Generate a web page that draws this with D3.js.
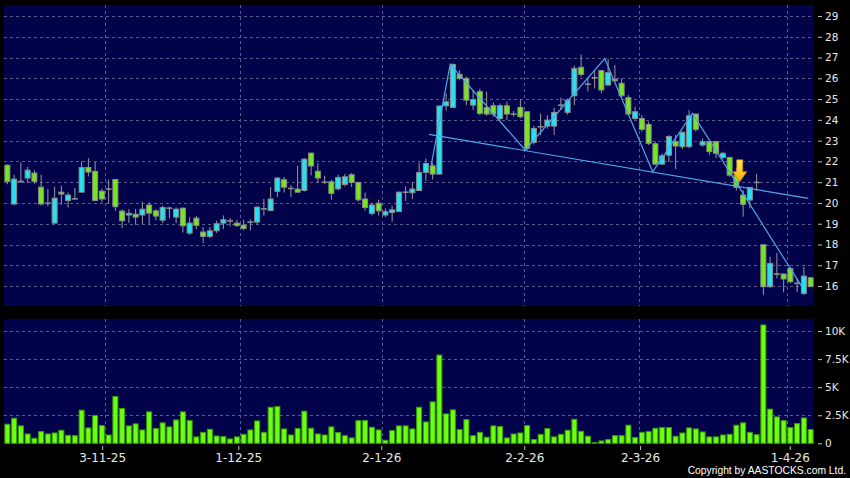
<!DOCTYPE html>
<html><head><meta charset="utf-8">
<script src="https://cdn.jsdelivr.net/npm/d3@7/dist/d3.min.js"></script>
<style>
html,body{margin:0;padding:0;background:#000;}
svg{display:block;}
</style></head>
<body>
<svg id="chart" width="850" height="478"></svg>
<script>
// ---------------- DATA ----------------
const openV  = [21.82,19.95,21.05,21.20,21.44,20.76,20.00,19.03,20.52,20.12,
                20.21,20.52,21.71,21.52,20.57,20.68,21.13,19.61,19.42,19.46,
                19.42,19.90,19.62,19.17,19.76,19.32,19.75,18.55,19.27,18.60,
                18.39,18.66,19.03,19.15,19.03,18.93,19.07,19.08,19.73,19.64,
                20.56,21.12,20.71,20.67,20.60,22.40,21.53,21.01,21.02,20.68,
                20.89,21.36,20.99,20.19,19.50,19.99,19.42,19.54,19.59,20.53,
                20.49,20.60,21.47,21.79,21.39,24.68,24.60,26.19,26.00,24.71,
                25.36,24.59,24.68,24.07,24.68,24.29,24.60,24.39,22.91,23.68,
                23.70,23.70,24.72,24.36,25.16,26.53,25.73,26.04,26.37,25.68,
                25.95,25.76,25.07,24.07,24.07,23.78,22.85,21.87,22.30,22.95,
                22.71,22.71,24.28,22.79,22.95,22.95,22.19,22.19,21.34,20.38,
                20.14,21.00,17.99,15.97,16.59,16.58,16.85,16.14,15.65,16.40];
const highV  = [21.85,21.36,21.95,21.73,21.57,21.36,20.68,20.78,20.83,20.50,
                20.72,22.00,22.16,21.98,20.68,21.12,21.15,19.69,19.70,19.72,
                20.07,20.03,19.70,19.88,19.83,19.78,19.78,19.32,19.38,18.84,
                18.84,19.14,19.40,19.27,19.19,19.19,19.22,19.83,20.19,20.76,
                21.25,21.25,20.85,21.79,22.16,22.42,21.92,21.31,21.12,21.36,
                21.40,21.44,21.02,20.50,20.00,20.15,19.74,19.87,20.55,20.80,
                21.00,21.95,22.14,21.93,24.67,25.28,26.72,26.40,26.08,25.44,
                25.50,25.36,24.84,24.79,24.88,24.43,25.00,24.39,23.72,24.31,
                24.23,24.58,25.07,25.03,26.61,27.15,26.00,26.40,26.40,26.93,
                26.64,26.00,25.20,24.63,24.23,23.91,22.95,22.38,23.27,23.27,
                23.45,24.48,24.30,23.11,23.00,23.00,22.47,22.22,21.70,20.62,
                20.75,21.39,17.99,17.41,17.60,16.60,16.90,16.37,16.93,16.42];
const lowV   = [20.90,19.88,20.96,20.96,20.92,19.87,19.83,19.00,19.90,19.78,
                20.15,20.50,21.28,20.08,20.03,19.96,19.62,18.79,19.03,18.95,
                18.98,18.98,19.17,19.03,19.27,19.03,18.58,18.47,18.73,18.07,
                18.29,18.56,18.74,18.87,18.84,18.68,18.68,18.98,19.39,19.60,
                20.28,20.50,20.28,20.50,20.55,21.33,20.96,20.90,20.15,20.60,
                20.80,20.77,20.07,19.63,19.40,19.40,19.33,19.10,19.59,20.10,
                20.19,20.57,21.05,21.13,21.39,24.44,24.60,25.90,24.71,24.47,
                24.23,24.20,24.15,23.99,23.99,24.15,24.07,22.52,22.82,23.26,
                23.58,23.27,24.47,24.25,24.71,26.08,25.36,25.52,25.28,25.64,
                25.84,25.04,24.23,23.99,23.43,22.79,21.82,21.82,21.98,21.63,
                22.60,22.63,23.43,22.71,22.31,22.15,22.10,21.26,20.60,19.34,
                19.74,20.59,15.57,15.90,16.37,15.70,16.13,15.70,15.57,15.97];
const closeV = [21.04,21.15,21.03,21.58,21.04,19.95,19.98,20.23,20.43,20.38,
                20.19,21.71,21.49,20.12,20.19,20.66,19.82,19.14,19.50,19.32,
                19.70,19.51,19.37,19.78,19.74,19.70,18.90,19.03,18.92,18.39,
                18.66,19.00,19.19,19.13,18.92,18.77,19.09,19.80,19.71,20.19,
                21.20,20.76,20.69,20.52,22.11,21.78,21.20,20.99,20.46,21.23,
                21.26,20.99,20.15,19.78,19.90,19.62,19.58,19.67,20.52,20.51,
                20.67,21.47,21.90,21.39,24.67,24.87,26.67,26.00,24.95,24.98,
                24.31,24.28,24.28,24.68,24.28,24.27,24.15,22.63,23.59,23.66,
                23.99,24.36,24.70,24.95,26.48,26.19,25.71,26.02,25.44,26.27,
                25.88,25.16,24.28,24.39,23.54,22.87,21.87,22.27,23.20,22.74,
                23.40,24.20,23.54,22.95,22.47,22.39,22.39,21.34,20.75,19.93,
                20.75,20.98,15.97,17.09,16.57,16.34,16.21,16.12,16.48,15.97];
const volumeV = [1700,2230,1550,830,450,1040,830,920,1160,710,
                 680,2950,1370,2470,1580,740,4170,3100,1550,1730,
                 1190,2800,1310,1820,1460,2080,2800,2020,570,980,
                 1250,650,600,390,570,800,1190,1990,980,3210,
                 3270,1280,740,1310,2860,1340,830,740,1460,950,
                 680,480,2020,2020,1430,1190,270,1130,1550,1550,
                 1280,3210,1900,3690,7860,2620,2980,1220,2110,680,
                 980,540,1550,1490,480,830,920,1580,330,800,
                 1310,570,800,1160,2140,1070,630,60,210,330,
                 680,680,1610,510,980,1040,1340,1400,1400,630,
                 920,1370,1280,1010,570,570,740,800,1610,1820,
                 980,770,10540,3040,2350,2020,1400,1760,2260,1220];
// first trading day of each month (bar index) and its label
const tickIndex  = [15, 35, 56, 77, 94, 116];
const tickLabels = ["3-11-25", "1-12-25", "2-1-26", "2-2-26", "2-3-26", "1-4-26"];
const priceTicks = [16,17,18,19,20,21,22,23,24,25,26,27,28,29];
const volTicks = [0, 2500, 5000, 7500, 10000];
const volTickLabels = ["0", "2.5K", "5K", "7.5K", "10K"];
// drawn pattern lines: [bar index, price]
const patternLine  = [[62.8,21.83],[65.6,26.67],[76.7,22.55],[88.5,26.95],[95.6,21.50],[101.5,24.31],[117.7,15.97]];
const necklineLine = [[62.45,23.30],[118.65,20.22]];
// sell signal arrow: [bar index, tip price]
const signalArrow = [108.5, 21.02];
const copyrightText = "Copyright by AASTOCKS.com Ltd.";

// ---------------- CHART ----------------
const N = closeV.length;
const svg = d3.select("#chart");
svg.append("rect").attr("width",850).attr("height",478).attr("fill","#000");

const P = {l:4, r:814, top1:5, bot1:306, top2:319, bot2:444};
const NAVY = "#02024a", GRID = "#5a5a8e";
const UP = "#25e2f0", DOWN = "#78e61e", OUTLINE = "#8c8c8c";

const x = d3.scaleLinear().domain([-0.5, N-0.5]).range([P.l, P.r]);
const xTick = d3.scaleLinear().domain([-0.5, N-0.5]).range([0, 817]);
const yP = d3.scaleLinear().domain([15.04, 29.53]).range([P.bot1, P.top1]);
const yV = d3.scaleLinear().domain([0, 11070]).range([443.3, P.top2]);

// panels
svg.append("rect").attr("x",P.l).attr("y",P.top1).attr("width",P.r-P.l).attr("height",P.bot1-P.top1).attr("fill",NAVY);
svg.append("rect").attr("x",P.l).attr("y",P.top2).attr("width",P.r-P.l).attr("height",P.bot2-P.top2).attr("fill",NAVY);

const grid = svg.append("g").attr("stroke",GRID).attr("stroke-width",1).attr("stroke-dasharray","3,3").attr("fill","none");
priceTicks.forEach(v=>{
  const yy = Math.round(yP(v))+0.5;
  grid.append("line").attr("x1",P.l).attr("x2",P.r).attr("y1",yy).attr("y2",yy);
});
volTicks.slice(1).forEach(v=>{
  const yy = Math.round(yV(v))+0.5;
  grid.append("line").attr("x1",P.l).attr("x2",P.r).attr("y1",yy).attr("y2",yy);
});
tickIndex.forEach(i=>{
  const xx = Math.round(x(i-0.5))+0.5;
  grid.append("line").attr("x1",xx).attr("x2",xx).attr("y1",P.top1).attr("y2",P.bot1);
  grid.append("line").attr("x1",xx).attr("x2",xx).attr("y1",P.top2).attr("y2",P.bot2);
});

// candles
const idx = d3.range(N);
const cg = svg.append("g");
cg.selectAll("line.wick").data(idx).join("line")
  .attr("x1",i=>x(i)).attr("x2",i=>x(i))
  .attr("y1",i=>yP(highV[i])).attr("y2",i=>yP(lowV[i]))
  .attr("stroke","#9a9a9a").attr("stroke-width",1);
cg.selectAll("rect.body").data(idx).join("rect")
  .attr("x",i=>x(i)-2.5).attr("width",5)
  .attr("y",i=>yP(Math.max(openV[i],closeV[i])))
  .attr("height",i=>Math.max(0.5, yP(Math.min(openV[i],closeV[i]))-yP(Math.max(openV[i],closeV[i]))))
  .attr("fill",i=>closeV[i]>=openV[i]?UP:DOWN)
  .attr("stroke",OUTLINE).attr("stroke-width",1);

// pattern lines
const lineGen = d3.line().x(d=>x(d[0])).y(d=>yP(d[1]));
svg.append("path").attr("d",lineGen(necklineLine)).attr("fill","none").attr("stroke","#4fa8e6").attr("stroke-width",1.2);
svg.append("path").attr("d",lineGen(patternLine)).attr("fill","none").attr("stroke","#4fa8e6").attr("stroke-width",1.2);

// signal arrow
const defs = svg.append("defs");
const gr = defs.append("linearGradient").attr("id","arrowGrad").attr("x1",0).attr("y1",0).attr("x2",0).attr("y2",1);
gr.append("stop").attr("offset","0%").attr("stop-color","#ffe95a");
gr.append("stop").attr("offset","100%").attr("stop-color","#f6a800");
const ax = x(signalArrow[0]), ay = yP(signalArrow[1]);
const arrowPts = [[ax-3,ay-22],[ax+3,ay-22],[ax+3,ay-10],[ax+7,ay-10],[ax,ay],[ax-7,ay-10],[ax-3,ay-10]];
svg.append("polygon").attr("points",arrowPts.map(p=>p.join(",")).join(" "))
  .attr("fill","url(#arrowGrad)").attr("stroke","#d08a00").attr("stroke-width",0.6);

// volume bars
svg.append("g").selectAll("rect").data(idx).join("rect")
  .attr("x",i=>x(i)-2.5).attr("width",5)
  .attr("y",i=>yV(volumeV[i])).attr("height",i=>yV(0)-yV(volumeV[i]))
  .attr("fill","#6bff12").attr("stroke","#3c9a08").attr("stroke-width",1);

// axes
const font = "DejaVu Sans, Verdana, sans-serif";
function styleAxis(g, size){
  g.select(".domain").remove();
  g.selectAll(".tick line").attr("stroke","#bdbdbd");
  g.selectAll(".tick text").attr("fill","#e8e8e8").style("font-family",font).style("font-size",size);
}
const gyP = svg.append("g").attr("transform","translate(818,0)")
  .call(d3.axisRight(yP).tickValues(priceTicks).tickSize(4).tickPadding(3).tickFormat(d3.format("d")));
styleAxis(gyP,"10.5px");
const gyV = svg.append("g").attr("transform","translate(818,0)")
  .call(d3.axisRight(yV).tickValues(volTicks).tickSize(4).tickPadding(3).tickFormat((d,k)=>volTickLabels[k]));
styleAxis(gyV,"10.5px");
const gx = svg.append("g").attr("transform","translate(0,446)")
  .call(d3.axisBottom(xTick).tickValues(tickIndex.map(i=>i-0.5)).tickSize(4).tickPadding(3).tickFormat((d,k)=>tickLabels[k]));
styleAxis(gx,"12px");

svg.append("text").attr("x",846).attr("y",473.5).attr("text-anchor","end")
  .attr("fill","#ffffff").style("font-family","Liberation Sans, Arial, sans-serif").style("font-size","10.3px")
  .text(copyrightText);
</script>
</body></html>
